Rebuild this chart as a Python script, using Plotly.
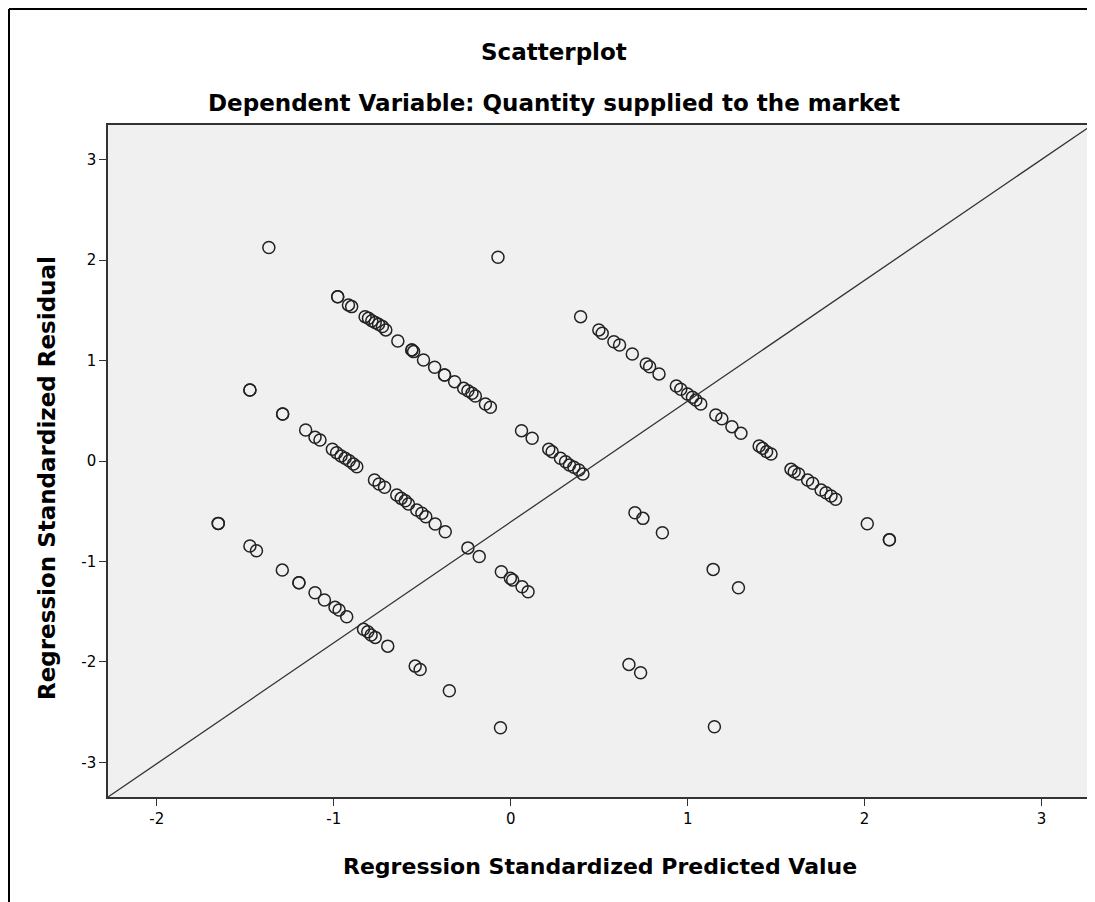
import plotly.graph_objects as go

# Regression standardized predicted values (x) and residuals (y)
predicted = [
    -1.367, -0.072,
    -0.978, -0.978, -0.917, -0.899, -0.823, -0.804, -0.785, -0.766, -0.747, -0.725, -0.706,
    -0.638, -0.559, -0.559, -0.549, -0.493, -0.430, -0.374, -0.374, -0.317,
    -0.266, -0.242, -0.219, -0.200, -0.143, -0.115,
    0.061, 0.121, 0.215, 0.234, 0.281, 0.310, 0.332, 0.357, 0.385, 0.408,
    0.702, 0.747, 0.857, 1.144, 1.287,
    0.395, 0.498, 0.517, 0.583, 0.615, 0.687, 0.766, 0.785, 0.838, 0.936, 0.961,
    0.999, 1.027, 1.046, 1.074, 1.159, 1.193, 1.250, 1.301,
    1.404, 1.423, 1.446, 1.471, 1.584, 1.602, 1.627, 1.678, 1.706,
    1.754, 1.782, 1.810, 1.836, 2.015, 2.140, 2.140,
    -1.474, -1.474, -1.289, -1.289, -1.159, -1.106, -1.078,
    -1.008, -0.984, -0.959, -0.936, -0.913, -0.889, -0.870,
    -0.770, -0.744, -0.713, -0.644, -0.619, -0.596, -0.578,
    -0.531, -0.502, -0.480, -0.427, -0.370,
    -0.242, -0.178, -0.053, -0.002, 0.011, 0.064, 0.098,
    0.668, 0.734, 1.151,
    -1.653, -1.653, -1.474, -1.437, -1.291, -1.197, -1.197, -1.106, -1.053,
    -0.993, -0.970, -0.927, -0.832, -0.808, -0.789, -0.766, -0.695,
    -0.540, -0.512, -0.347, -0.058,
]
residual = [
    2.125, 2.029,
    1.636, 1.636, 1.554, 1.537, 1.437, 1.421, 1.397, 1.378, 1.361, 1.338, 1.305,
    1.195, 1.106, 1.106, 1.089, 1.006, 0.933, 0.857, 0.857, 0.790,
    0.724, 0.700, 0.674, 0.647, 0.568, 0.535,
    0.302, 0.226, 0.117, 0.093, 0.027, -0.007, -0.040, -0.063, -0.090, -0.129,
    -0.515, -0.571, -0.714, -1.079, -1.262,
    1.437, 1.305, 1.272, 1.188, 1.155, 1.066, 0.966, 0.939, 0.867, 0.747, 0.714,
    0.667, 0.634, 0.608, 0.568, 0.458, 0.421, 0.342, 0.276,
    0.149, 0.126, 0.093, 0.070, -0.083, -0.107, -0.129, -0.189, -0.222,
    -0.289, -0.316, -0.349, -0.380, -0.625, -0.785, -0.785,
    0.707, 0.707, 0.468, 0.468, 0.309, 0.236, 0.209,
    0.117, 0.083, 0.050, 0.027, 0.003, -0.030, -0.057,
    -0.189, -0.229, -0.262, -0.339, -0.372, -0.395, -0.428,
    -0.488, -0.521, -0.555, -0.627, -0.704,
    -0.865, -0.950, -1.103, -1.168, -1.185, -1.252, -1.302,
    -2.025, -2.108, -2.646,
    -0.621, -0.621, -0.847, -0.893, -1.086, -1.212, -1.212, -1.312, -1.384,
    -1.457, -1.484, -1.551, -1.676, -1.700, -1.733, -1.756, -1.843,
    -2.042, -2.075, -2.288, -2.656,
]

x_ticks = [-2, -1, 0, 1, 2, 3]
x_tick_labels = ["-2", "-1", "0", "1", "2", "3"]
y_ticks = [-3, -2, -1, 0, 1, 2, 3]
y_tick_labels = ["-3", "-2", "-1", "0", "1", "2", "3"]

chart_title = "Scatterplot"
chart_subtitle = "Dependent Variable: Quantity supplied to the market"
x_title = "Regression Standardized Predicted Value"
y_title = "Regression Standardized Residual"

X_RANGE = [-2.276, 3.285]
Y_RANGE = [-3.345, 3.345]

# The page body adds an 8px margin, so the figure is sized to fit the window.
OFF = 8
W, H = 1095 - OFF, 902 - OFF
ML, MR, MT, MB = 100, 3, 117, 105
PW, PH = W - ML - MR, H - MT - MB


def px_x(p):
    """page pixel x -> paper coordinate"""
    return (p - OFF - ML) / PW


def px_y(p):
    """page pixel y -> paper coordinate"""
    return (H - MB - (p - OFF)) / PH


TITLE_FONT = dict(family="DejaVu Sans", size=23, color="#000000", weight="bold")

fig = go.Figure()
fig.add_trace(go.Scatter(
    x=predicted, y=residual, mode="markers",
    marker=dict(symbol="circle-open", size=12, color="#222222",
                line=dict(width=1.5, color="#222222")),
    hoverinfo="x+y", showlegend=False,
))

fig.update_layout(
    width=W, height=H,
    margin=dict(l=ML, r=MR, t=MT, b=MB, autoexpand=False),
    paper_bgcolor="#ffffff", plot_bgcolor="#f0f0f0",
    font=dict(family="DejaVu Sans", size=14, color="#000000"),
    showlegend=False,
)
fig.update_xaxes(
    range=X_RANGE, tickmode="array", tickvals=x_ticks, ticktext=x_tick_labels,
    showgrid=False, zeroline=False, showline=True, linecolor="#333333", linewidth=1.5,
    mirror=True, ticks="outside", ticklen=7, tickwidth=1.3, tickcolor="#333333",
    tickfont=dict(family="DejaVu Sans", size=15, color="#000000"),
)
fig.update_yaxes(
    range=Y_RANGE, tickmode="array", tickvals=y_ticks, ticktext=y_tick_labels,
    showgrid=False, zeroline=False, showline=True, linecolor="#333333", linewidth=1.5,
    mirror=True, ticks="outside", ticklen=7, tickwidth=1.3, tickcolor="#333333",
    tickfont=dict(family="DejaVu Sans", size=15, color="#000000"),
)

# Reference line: corner-to-corner diagonal of the plotting area
fig.add_shape(type="line", xref="paper", yref="paper", x0=0, y0=0, x1=1, y1=1,
              line=dict(color="#333333", width=1.3), layer="above")

# Outer frame (left and top edges visible in the reference)
fig.add_shape(type="line", xref="paper", yref="paper",
              x0=px_x(9), y0=px_y(9), x1=px_x(1100), y1=px_y(9),
              line=dict(color="#000000", width=2))
fig.add_shape(type="line", xref="paper", yref="paper",
              x0=px_x(9), y0=px_y(9), x1=px_x(9), y1=px_y(910),
              line=dict(color="#000000", width=2))

fig.add_annotation(text=chart_title, xref="paper", yref="paper",
                   x=px_x(554), y=px_y(52), xanchor="center", yanchor="middle",
                   showarrow=False, font=TITLE_FONT)
fig.add_annotation(text=chart_subtitle, xref="paper", yref="paper",
                   x=px_x(554), y=px_y(103), xanchor="center", yanchor="middle",
                   showarrow=False, font=TITLE_FONT)
fig.add_annotation(text=x_title, xref="paper", yref="paper",
                   x=px_x(600), y=px_y(866), xanchor="center", yanchor="middle",
                   showarrow=False, font=dict(TITLE_FONT, size=22))
fig.add_annotation(text=y_title, xref="paper", yref="paper",
                   x=px_x(47), y=px_y(478), xanchor="center", yanchor="middle",
                   textangle=-90, showarrow=False, font=TITLE_FONT)

fig.write_html("out.html")
